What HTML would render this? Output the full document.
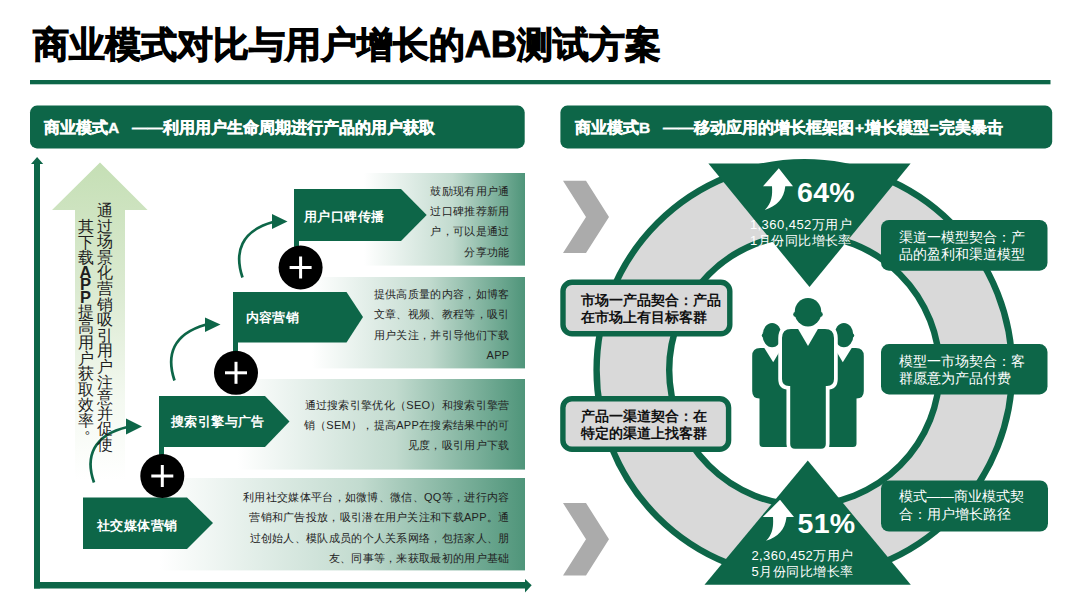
<!DOCTYPE html>
<html><head><meta charset="utf-8">
<style>
html,body{margin:0;padding:0;background:#fff;}
body{width:1080px;height:608px;position:relative;overflow:hidden;font-family:"Liberation Sans",sans-serif;}
svg{position:absolute;left:0;top:0;}
.t{position:absolute;white-space:nowrap;}
.title{left:33px;top:22px;font-size:36px;font-weight:bold;color:#000;line-height:46px;letter-spacing:0px;-webkit-text-stroke:1.1px #000;}
.hdr{color:#fff;font-weight:bold;font-size:15.5px;line-height:20px;-webkit-text-stroke:0.4px #fff;}
.step{color:#fff;font-weight:bold;font-size:13px;line-height:18px;letter-spacing:0.4px;}
.desc{color:#222;font-size:11px;line-height:20.4px;text-align:right;letter-spacing:0.3px;}
.gbox{color:#111;font-size:13.6px;line-height:17.2px;font-weight:bold;}
.wbox{color:#fff;font-size:13.7px;line-height:17.4px;}
.pct{color:#fff;font-weight:bold;font-size:28.5px;line-height:34px;letter-spacing:0.3px;}
.sub{width:104px;text-align:center;color:#fff;font-size:13px;line-height:16.8px;letter-spacing:0.45px;}
.vt{font-size:16px;line-height:15.6px;color:#1e1e1e;text-align:center;}
</style></head>
<body>
<svg width="1080" height="608" viewBox="0 0 1080 608">
<defs>
<linearGradient id="dg" x1="0" y1="0" x2="1" y2="0">
<stop offset="0" stop-color="#ffffff"/>
<stop offset="0.55" stop-color="#c2dbcf"/>
<stop offset="1" stop-color="#4f957a"/>
</linearGradient>
<linearGradient id="lg" x1="0" y1="0" x2="0" y2="1">
<stop offset="0" stop-color="#c5dfb5"/>
<stop offset="0.4" stop-color="#dbeAd1"/>
<stop offset="0.75" stop-color="#f4f9f1"/>
<stop offset="1" stop-color="#ffffff"/>
</linearGradient>
</defs>
<!-- title rule -->
<rect x="30" y="80" width="1020.5" height="4.3" fill="#0d6648"/>
<!-- header bars -->
<rect x="30" y="105.6" width="494.7" height="42.8" rx="7" fill="#0d6648"/>
<rect x="560.4" y="105.6" width="491.8" height="42.8" rx="7" fill="#0d6648"/>

<!-- LEFT PANEL -->
<!-- light green arrow -->
<polygon points="100,162.6 147.6,210 125,210 125,480 75,480 75,210 52,210" fill="url(#lg)"/>
<!-- axes -->
<rect x="34" y="162" width="6" height="426.5" fill="#0d6648"/>
<polygon points="31,164 37.1,157 43.2,164" fill="#0d6648"/>
<rect x="34" y="582" width="492" height="6.5" fill="#0d6648"/>
<polygon points="525,579 531.7,585.3 525,592.6" fill="#0d6648"/>

<!-- desc boxes -->
<rect x="160" y="478" width="365" height="92.4" fill="url(#dg)"/>
<rect x="237" y="379" width="288" height="90.6" fill="url(#dg)"/>
<rect x="312" y="277" width="213" height="91.4" fill="url(#dg)"/>
<rect x="364" y="173" width="161" height="92.6" fill="url(#dg)"/>

<!-- curved arrows -->
<g fill="none" stroke="#0d6648" stroke-width="2.7" stroke-linecap="butt">
<path d="M94 482.5 C85 457, 93 435, 127.5 427"/>
<path d="M174.5 380.5 C166 355, 173 334, 205.5 324.7"/>
<path d="M242.5 277.5 C234 252, 241 231, 273 222"/>
</g>
<g fill="#0d6648">
<polygon points="126,418.5 142,426.5 126,434.5"/>
<polygon points="205,317.5 220.5,324.5 205,332"/>
<polygon points="272,214 287.5,221.5 272,229"/>
</g>

<!-- pentagons -->
<g fill="#0d6648">
<polygon points="83,497.5 187,497.5 213,523 187,549 83,549"/>
<polygon points="159,396 265,396 289.5,421.5 265,447 159,447"/>
<polygon points="233,292 346.5,292 363,317 346.5,342.5 233,342.5"/>
<polygon points="294,189 401,189 426.7,215 401,241 294,241"/>
<rect x="159" y="447" width="5" height="10"/>
<rect x="233" y="342" width="5" height="10"/>
<rect x="294" y="241" width="5" height="10"/>
</g>
<!-- plus circles -->
<g>
<circle cx="162.3" cy="476" r="22" fill="#000"/>
<circle cx="236" cy="372.8" r="22" fill="#000"/>
<circle cx="300.6" cy="267.5" r="22" fill="#000"/>
</g>
<g fill="#fff">
<rect x="151.3" y="474.5" width="22" height="3"/>
<rect x="160.8" y="465" width="3" height="22"/>
<rect x="225" y="371.3" width="22" height="3"/>
<rect x="234.5" y="361.8" width="3" height="22"/>
<rect x="289.6" y="266" width="22" height="3"/>
<rect x="299.1" y="256.5" width="3" height="22"/>
</g>

<!-- RIGHT PANEL -->
<!-- chevrons -->
<polygon points="563,180.7 586,180.7 609,217 586,253 563,253 586,217" fill="#ababab"/>
<polygon points="563,503 586,503 609,539.3 586,575.6 563,575.6 586,539.3" fill="#ababab"/>
<!-- ring -->
<circle cx="804.4" cy="370" r="171.5" fill="none" stroke="#0d6648" stroke-width="79"/>
<circle cx="804.4" cy="370" r="171.5" fill="none" stroke="#d9d9d9" stroke-width="66.2"/>
<!-- triangles -->
<polygon points="708.4,163.6 910.6,163.6 809.5,287" fill="#0d6648"/>
<polygon points="807.8,460.5 910.8,584.8 704.5,584.8" fill="#0d6648"/>
<!-- up arrows -->
<path d="M778.8 168.2 L793 186.3 L785.3 186.3 C784 199 777 206 764.8 210 C772 203 772.5 195 772 186.3 L763 186.3 Z" fill="#fff"/>
<path d="M780 499.8 L794 517 L786.5 517 C785 530 778 537 766 540.8 C773 534 773.5 526 773 517 L762.8 517 Z" fill="#fff"/>

<!-- people icon -->
<g id="sideL" fill="#0d6648">
<ellipse cx="772.1" cy="335.2" rx="9.5" ry="12.2"/>
<circle cx="763.8" cy="335.5" r="2"/>
<path d="M752.2 356 Q752.2 348 760.2 348 L797 348 L797 447 L763 447 Q759.5 447 759.5 443.5 L759.5 398.5 Q752.2 398.5 752.2 391 Z"/>
<polygon points="764,347.5 782,347.5 773.2,362.3" fill="#fff"/>
</g>
<g transform="translate(1616,0) scale(-1,1)" fill="#0d6648">
<ellipse cx="772.1" cy="335.2" rx="9.5" ry="12.2"/>
<circle cx="763.8" cy="335.5" r="2"/>
<path d="M752.2 356 Q752.2 348 760.2 348 L797 348 L797 447 L763 447 Q759.5 447 759.5 443.5 L759.5 398.5 Q752.2 398.5 752.2 391 Z"/>
<polygon points="764,347.5 782,347.5 773.2,362.3" fill="#fff"/>
</g>
<path d="M782 338 Q782 328.9 791 328.9 L825 328.9 Q834 328.9 834 338 L834 379 Q834 385.9 827 385.9 L825.8 385.9 L825.8 444 Q825.8 448.7 821 448.7 L795 448.7 Q790.2 448.7 790.2 444 L790.2 385.9 L789 385.9 Q782 385.9 782 379 Z" fill="#0d6648" stroke="#fff" stroke-width="7.5" paint-order="stroke" stroke-linejoin="round"/>
<polygon points="797.5,328 818.5,328 808,346" fill="#fff"/>
<ellipse cx="808" cy="312.2" rx="13.3" ry="14.3" fill="#0d6648"/>
<circle cx="795.6" cy="314.5" r="2.4" fill="#0d6648"/>
<circle cx="820.4" cy="314.5" r="2.4" fill="#0d6648"/>

<!-- boxes -->
<rect x="563" y="282.2" width="166.8" height="51.6" rx="9" fill="#d9d9d9" stroke="#0d6648" stroke-width="5.4"/>
<rect x="562.9" y="398.7" width="165.7" height="50.6" rx="9" fill="#d9d9d9" stroke="#0d6648" stroke-width="5.4"/>
<rect x="881" y="220" width="166.5" height="50.7" rx="8" fill="#0d6648"/>
<rect x="881" y="344.1" width="166.5" height="50.3" rx="8" fill="#0d6648"/>
<rect x="881" y="480.4" width="167" height="51.2" rx="8" fill="#0d6648"/>
</svg>

<!-- TEXT -->
<div class="t title">商业模式对比与用户增长的AB测试方案</div>
<div class="t hdr" style="left:44px;top:117.5px;">商业模式A&nbsp;&nbsp;&nbsp;——利用用户生命周期进行产品的用户获取</div>
<div class="t hdr" style="left:575px;top:117.5px;">商业模式B&nbsp;&nbsp;&nbsp;——移动应用的增长框架图<span style="margin:0 0.8px">+</span>增长模型<span style="margin:0 0.8px">=</span>完美暴击</div>

<div class="t vt" style="left:94.7px;top:203px;width:20px;">通<br>过<br>场<br>景<br>化<br>营<br>销<br>吸<br>引<br>用<br>户<br>注<br>意<br>并<br>促<br>使</div>
<div class="t vt" style="left:75.5px;top:219px;width:20px;">其<br>下<br>载<span style="display:block;height:12.7px;line-height:13px;font-weight:bold;font-size:16.5px;">A</span><span style="display:block;height:12.7px;line-height:13px;font-weight:bold;font-size:16.5px;">P</span><span style="display:block;height:12.7px;line-height:13px;font-weight:bold;font-size:16.5px;">P</span>提<br>高<br>用<br>户<br>获<br>取<br>效<br>率<span style="display:block;position:relative;left:6px;top:-9px;">。</span></div>

<div class="t step" style="left:97px;top:517px;">社交媒体营销</div>
<div class="t step" style="left:171px;top:413px;">搜索引擎与广告</div>
<div class="t step" style="left:245.6px;top:309px;">内容营销</div>
<div class="t step" style="left:304px;top:208px;">用户口碑传播</div>

<div class="t desc" style="right:570.5px;top:180.5px;">鼓励现有用户通<br>过口碑推荐新用<br>户，可以是通过<br>分享功能</div>
<div class="t desc" style="right:570.5px;top:284px;">提供高质量的内容，如博客<br>文章、视频、教程等，吸引<br>用户关注，并引导他们下载<br>APP</div>
<div class="t desc" style="right:570.5px;top:394.5px;">通过搜索引擎优化（SEO）和搜索引擎营<br>销（SEM），提高APP在搜索结果中的可<br>见度，吸引用户下载</div>
<div class="t desc" style="right:570.5px;top:487px;">利用社交媒体平台，如微博、微信、QQ等，进行内容<br>营销和广告投放，吸引潜在用户关注和下载APP。通<br>过创始人、模队成员的个人关系网络，包括家人、朋<br>友、同事等，来获取最初的用户基础</div>

<div class="t gbox" style="left:581px;top:291.7px;">市场一产品契合：产品<br>在市场上有目标客群</div>
<div class="t gbox" style="left:581px;top:407.5px;">产品一渠道契合：在<br>特定的渠道上找客群</div>
<div class="t wbox" style="left:898.5px;top:229px;">渠道一模型契合：产<br>品的盈利和渠道模型</div>
<div class="t wbox" style="left:898.5px;top:352.5px;">模型一市场契合：客<br>群愿意为产品付费</div>
<div class="t wbox" style="left:898.5px;top:488.3px;">模式——商业模式契<br>合：用户增长路径</div>

<div class="t pct" style="left:797px;top:174.5px;">64%</div>
<div class="t sub" style="left:749px;top:216.5px;">1,360,452万用户<br>1月份同比增长率</div>
<div class="t pct" style="left:797.5px;top:506px;">51%</div>
<div class="t sub" style="left:750.5px;top:547.5px;">2,360,452万用户<br>5月份同比增长率</div>
</body></html>
